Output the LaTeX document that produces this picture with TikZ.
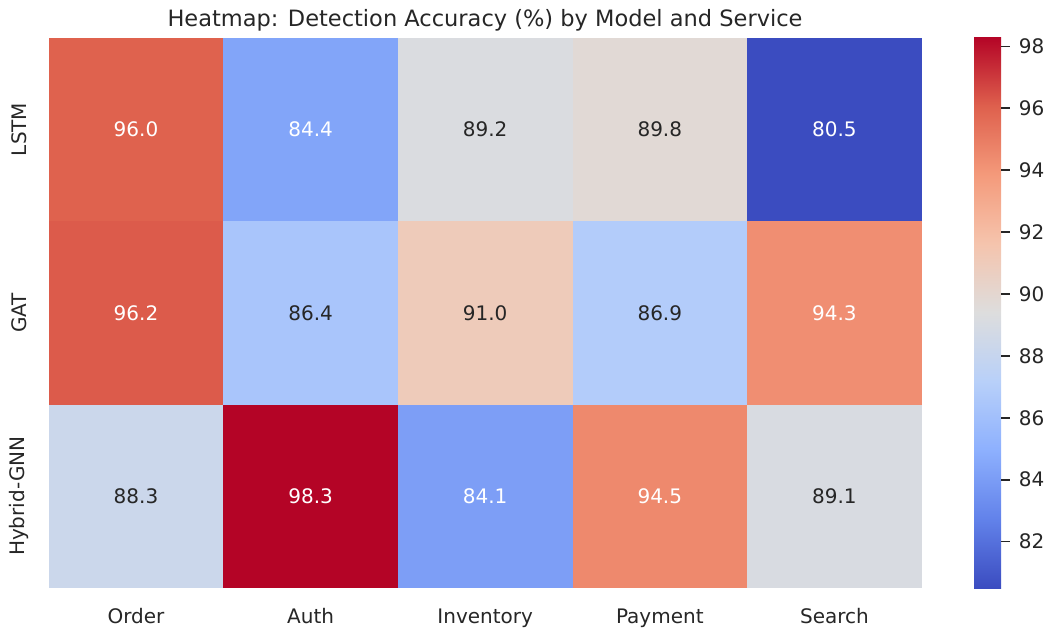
\documentclass[tikz,border=0pt]{standalone}
\usepackage{fontspec}
\setmainfont{DejaVu Sans}
\usepackage{xcolor}
\usepackage{tikz}
\usetikzlibrary{positioning}
\definecolor{labelgray}{RGB}{38,38,38}
% coolwarm samples for each cell
\definecolor{lstmorder}{RGB}{223,98,78}
\definecolor{lstmauth}{RGB}{130,165,249}
\definecolor{lstminv}{RGB}{218,220,224}
\definecolor{lstmpay}{RGB}{225,217,213}
\definecolor{lstmsearch}{RGB}{59,76,192}
\definecolor{gatorder}{RGB}{220,91,75}
\definecolor{gatauth}{RGB}{169,197,251}
\definecolor{gatinv}{RGB}{238,203,186}
\definecolor{gatpay}{RGB}{179,204,250}
\definecolor{gatsearch}{RGB}{240,142,114}
\definecolor{hyborder}{RGB}{203,215,235}
\definecolor{hybauth}{RGB}{180,4,38}
\definecolor{hybinv}{RGB}{125,158,246}
\definecolor{hybpay}{RGB}{238,137,109}
\definecolor{hybsearch}{RGB}{216,219,225}
\pgfdeclareverticalshading{coolwarm}{100bp}{
  rgb(0bp)=(0.231,0.298,0.753);
  rgb(25bp)=(0.231,0.298,0.753);
  rgb(31.25bp)=(0.384,0.510,0.918);
  rgb(37.5bp)=(0.553,0.690,0.996);
  rgb(43.75bp)=(0.722,0.816,0.976);
  rgb(50bp)=(0.867,0.867,0.867);
  rgb(56.25bp)=(0.961,0.769,0.678);
  rgb(62.5bp)=(0.957,0.604,0.482);
  rgb(68.75bp)=(0.871,0.376,0.302);
  rgb(75bp)=(0.706,0.016,0.149);
  rgb(100bp)=(0.706,0.016,0.149)}

\begin{document}
\begin{tikzpicture}[x=1pt, y=-1pt,
    cell/.style={rectangle, minimum width=174.6pt, minimum height=183.4pt,
                 inner sep=0pt, outer sep=0pt, text=labelgray,
                 font=\fontsize{20}{24}\selectfont},
    wcell/.style={cell, text=white},
    axlabel/.style={text=labelgray, inner sep=0pt, font=\fontsize{20}{24}\selectfont},
    tick/.style={labelgray, line width=1.6pt}]
\useasboundingbox (0,0) rectangle (1049,630);

% Title
\node (title) [axlabel, anchor=base, font=\fontsize{22.5}{27}\selectfont] at (485,26)
    {Heatmap: Detection Accuracy (\%) by Model and Service};

% LSTM row
\node (lstm-order)  [wcell, fill=lstmorder] at (136,129.4) {96.0};
\node (lstm-auth)   [wcell, fill=lstmauth,  right=0pt of lstm-order] {84.4};
\node (lstm-inv)    [cell,  fill=lstminv,   right=0pt of lstm-auth]  {89.2};
\node (lstm-pay)    [cell,  fill=lstmpay,   right=0pt of lstm-inv]   {89.8};
\node (lstm-search) [wcell, fill=lstmsearch,right=0pt of lstm-pay]   {80.5};

% GAT row
\node (gat-order)  [wcell, fill=gatorder,  below=0pt of lstm-order] {96.2};
\node (gat-auth)   [cell,  fill=gatauth,   right=0pt of gat-order]  {86.4};
\node (gat-inv)    [cell,  fill=gatinv,    right=0pt of gat-auth]   {91.0};
\node (gat-pay)    [cell,  fill=gatpay,    right=0pt of gat-inv]    {86.9};
\node (gat-search) [wcell, fill=gatsearch, right=0pt of gat-pay]    {94.3};

% Hybrid-GNN row
\node (hyb-order)  [cell,  fill=hyborder,  below=0pt of gat-order] {88.3};
\node (hyb-auth)   [wcell, fill=hybauth,   right=0pt of hyb-order] {98.3};
\node (hyb-inv)    [wcell, fill=hybinv,    right=0pt of hyb-auth]  {84.1};
\node (hyb-pay)    [wcell, fill=hybpay,    right=0pt of hyb-inv]   {94.5};
\node (hyb-search) [cell,  fill=hybsearch, right=0pt of hyb-pay]   {89.1};

% Row labels
\node (ylstm) [axlabel, rotate=90] at (19,129.4) {LSTM};
\node (ygat)  [axlabel, rotate=90] at (19,312.8) {GAT};
\node (yhyb)  [axlabel, rotate=90] at (19,496.2) {Hybrid-GNN};

% Column labels
\node (xorder)  [axlabel, anchor=base] at (lstm-order.center |- 0,623)  {Order};
\node (xauth)   [axlabel, anchor=base] at (lstm-auth.center |- 0,623)   {Auth};
\node (xinv)    [axlabel, anchor=base] at (lstm-inv.center |- 0,623)    {Inventory};
\node (xpay)    [axlabel, anchor=base] at (lstm-pay.center |- 0,623)    {Payment};
\node (xsearch) [axlabel, anchor=base] at (lstm-search.center |- 0,623) {Search};

% Colour bar
\shade[shading=coolwarm] (974,37) rectangle (1001,588);
\draw[tick] (1001,46.3)  -- ++(9,0) node (c98) [axlabel, anchor=west, xshift=8pt] {98};
\draw[tick] (1001,108.2) -- ++(9,0) node (c96) [axlabel, anchor=west, xshift=8pt] {96};
\draw[tick] (1001,170.1) -- ++(9,0) node (c94) [axlabel, anchor=west, xshift=8pt] {94};
\draw[tick] (1001,232.0) -- ++(9,0) node (c92) [axlabel, anchor=west, xshift=8pt] {92};
\draw[tick] (1001,293.9) -- ++(9,0) node (c90) [axlabel, anchor=west, xshift=8pt] {90};
\draw[tick] (1001,355.8) -- ++(9,0) node (c88) [axlabel, anchor=west, xshift=8pt] {88};
\draw[tick] (1001,417.8) -- ++(9,0) node (c86) [axlabel, anchor=west, xshift=8pt] {86};
\draw[tick] (1001,479.7) -- ++(9,0) node (c84) [axlabel, anchor=west, xshift=8pt] {84};
\draw[tick] (1001,541.6) -- ++(9,0) node (c82) [axlabel, anchor=west, xshift=8pt] {82};
\end{tikzpicture}
\end{document}
